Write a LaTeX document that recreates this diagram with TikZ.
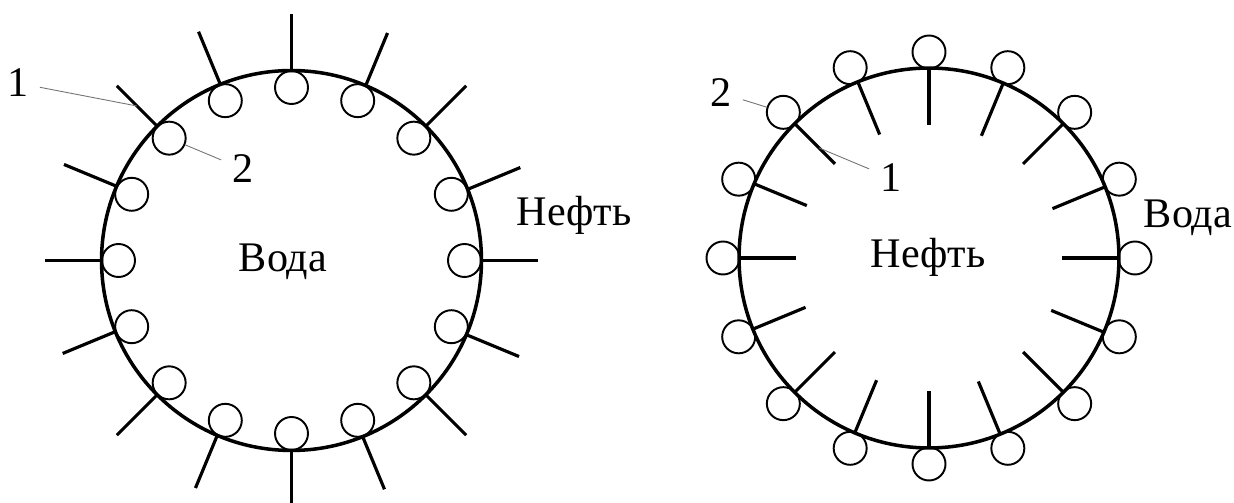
\documentclass[tikz,border=0pt]{standalone}
\usepackage{fontspec}
\setmainfont{Liberation Serif}
\usetikzlibrary{calc}
\tikzstyle{drop} = [circle, draw=black, line width=2pt, minimum size=7.6cm, inner sep=0pt, outer sep=0pt]
\tikzstyle{bead} = [circle, draw=black, line width=1.1pt, minimum size=0.66cm, inner sep=0pt]
\tikzstyle{spike} = [line width=1.8pt]
\tikzstyle{leader} = [draw=black!55, line width=0.5pt]
\tikzstyle{phase} = [font=\fontsize{24}{28}\selectfont, anchor=base, inner sep=0pt]
\tikzstyle{num} = [font=\fontsize{24}{28}\selectfont, anchor=base, inner sep=0.22cm]

\begin{document}
\begin{tikzpicture}[x=0.02cm, y=0.02cm]
    \useasboundingbox (0,0) rectangle (1234,503);

    \node (waterdrop) [drop] at (291.5,242.5) {};
    \foreach \a [count=\i] in {0,22.5,...,337.5} {
        \draw [spike] (waterdrop.\a) -- coordinate (wmid\i) ++(\a:57);
        \node (wbead\i) [bead] at ([shift={(\a:173)}]waterdrop.center) {};
    }

    \node (oildrop) [drop] at (929,245) {};
    \foreach \a [count=\i] in {0,22.5,...,337.5} {
        \draw [spike] (oildrop.\a) -- coordinate[pos=.6] (omid\i) ++({\a+180}:57);
        \node (obead\i) [bead] at ([shift={(\a:206)}]oildrop.center) {};
    }

    \node (water1) [phase] at (283,231) {Вода};
    \node (oil1) [phase] at (574,277) {Нефть};
    \node (oil2) [phase] at (928,235) {Нефть};
    \node (water2) [phase] at (1188,275) {Вода};

    \node (lbl1a) [num] at (18,406) {1};
    \node (lbl2a) [num] at (243,320) {2};
    \node (lbl2b) [num] at (721,396) {2};
    \node (lbl1b) [num] at (891,311) {1};

    \draw [leader] (lbl1a) -- (wmid7);
    \draw [leader] (lbl2a) -- (wbead7);
    \draw [leader] (lbl2b) -- (obead7);
    \draw [leader] (lbl1b) -- (omid7);
\end{tikzpicture}
\end{document}
